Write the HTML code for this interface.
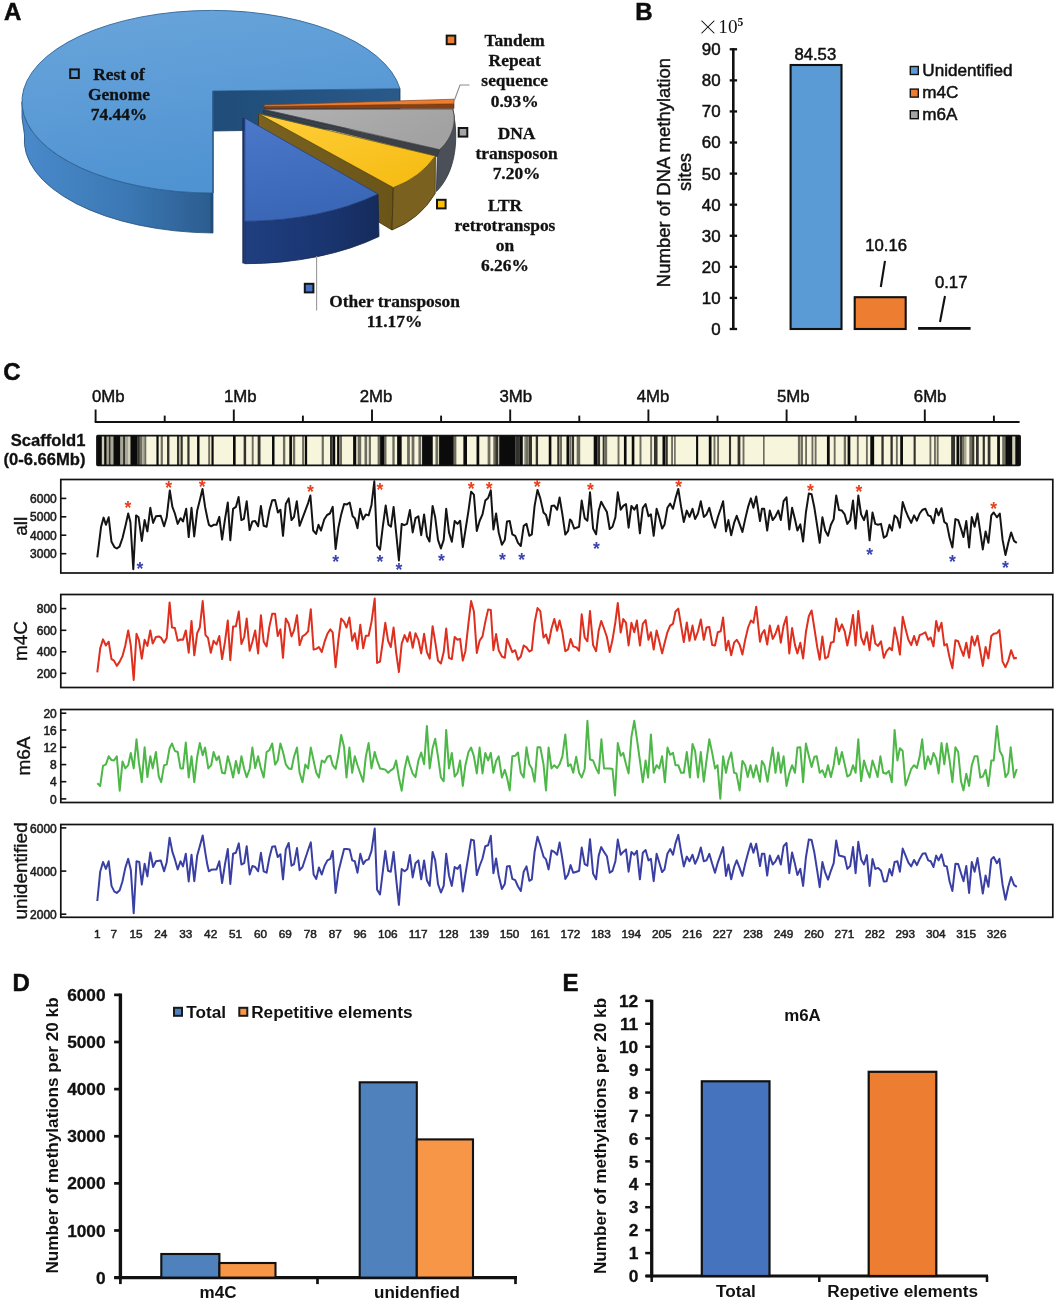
<!DOCTYPE html>
<html lang="en"><head><meta charset="utf-8"><title>Figure</title>
<style>
html,body{margin:0;padding:0;background:#fff;}
body{width:1058px;height:1304px;overflow:hidden;}
svg{display:block;will-change:transform;}
.ss{font-family:"Liberation Sans", sans-serif;}
.sf{font-family:"Liberation Serif", serif;}
</style></head><body>
<svg width="1058" height="1304" viewBox="0 0 1058 1304">
<defs>
<linearGradient id="gMainTop" x1="0" y1="0" x2="0.3" y2="1"><stop offset="0" stop-color="#6aa5db"/><stop offset="1" stop-color="#4f93d2"/></linearGradient>
<linearGradient id="gMainWall" x1="0" y1="0" x2="1" y2="0"><stop offset="0" stop-color="#4a8acb"/><stop offset="0.55" stop-color="#3b78b4"/><stop offset="1" stop-color="#2b5c8e"/></linearGradient>
<linearGradient id="gInner" x1="0" y1="0" x2="1" y2="0"><stop offset="0" stop-color="#1f4c78"/><stop offset="1" stop-color="#2a5a8a"/></linearGradient>
<linearGradient id="gBlueTop" x1="0" y1="0" x2="0.2" y2="1"><stop offset="0" stop-color="#4b78c9"/><stop offset="1" stop-color="#3a66b6"/></linearGradient>
<linearGradient id="gBlueWall" x1="0" y1="0" x2="1" y2="0"><stop offset="0" stop-color="#1f3f80"/><stop offset="0.6" stop-color="#1a3570"/><stop offset="1" stop-color="#152b5c"/></linearGradient>
<linearGradient id="gYelTop" x1="0" y1="0" x2="1" y2="1"><stop offset="0" stop-color="#ffcf3a"/><stop offset="1" stop-color="#f5ba10"/></linearGradient>
<linearGradient id="gYelWall" x1="0" y1="0" x2="1" y2="0"><stop offset="0" stop-color="#7b6220"/><stop offset="1" stop-color="#6a5418"/></linearGradient>
<linearGradient id="gGrayTop" x1="0" y1="0" x2="1" y2="0.4"><stop offset="0" stop-color="#b2b2b2"/><stop offset="1" stop-color="#a2a2a2"/></linearGradient>
</defs>
<g id="panelA">
<path d="M213,91 L400,88.7 L400,128 L213,131 Z" fill="url(#gInner)" stroke="#173a5c" stroke-width="0.8"/>
<path d="M22,101.7 A190,91.3 0 0 0 213,193 L213,233 A192,93 0 0 1 24.5,135 L22,118 Z" fill="url(#gMainWall)" stroke="#234d75" stroke-width="0.8"/>
<path d="M213,91 L400,88.7 A190,91.3 0 1 0 213,193 Z" fill="url(#gMainTop)" stroke="#2f6496" stroke-width="0.9"/>
<path d="M210.5,193 L213,193 L213,233 L210.5,233 Z" fill="#234e79"/>
<path d="M213,91 L213,193" stroke="#2a5a88" stroke-width="1.4"/>
<path d="M264.3,106.5 L454,103.8 L454,108.6 L264.3,108.6 Z" fill="#8a3f10" stroke="#5a2a0a" stroke-width="0.6"/>
<path d="M264.3,105 L454,99.2 L454,103.8 L264.3,106.5 Z" fill="#ed7d31" stroke="#8a4312" stroke-width="0.7"/>
<path d="M452.6,109 C456.5,120 453.5,137 439.6,149.6 L437.4,152 L436.4,191.5 C452,176 458,150 455,123 Z" fill="#4b5058" stroke="#2f3237" stroke-width="0.8"/>
<path d="M263.5,110.4 L439.6,149.6 L437,156.5 L263.5,113 Z" fill="#3c4047" stroke="#2a2c30" stroke-width="0.6"/>
<path d="M263.5,109.3 L452.6,109 C456.5,120 453.5,137 439.6,149.6 Z" fill="url(#gGrayTop)" stroke="#4a4a4a" stroke-width="0.8"/>
<path d="M258.5,113.7 L393.3,187.6 L392,230 L258.5,150 Z" fill="url(#gYelWall)" stroke="#3f3210" stroke-width="0.8"/>
<path d="M435.4,156 Q420,178 393.3,187.6 L392,230 Q420,219 435.2,193.5 Z" fill="#7a611f" stroke="#3f3210" stroke-width="0.8"/>
<path d="M258.5,113.7 L435.4,156 Q420,178 393.3,187.6 Z" fill="url(#gYelTop)" stroke="#6a5310" stroke-width="0.8"/>
<path d="M378,194 A197,103 0 0 1 244.8,221.3 L244.8,263.7 A197,103 0 0 0 379,236.5 Z" fill="url(#gBlueWall)" stroke="#12244d" stroke-width="0.8"/>
<path d="M242.3,118 L244.8,118 L244.8,263.7 L242.3,263.2 Z" fill="#1a3266"/>
<path d="M244.8,118 L378,194 A197,103 0 0 1 244.8,221.3 Z" fill="url(#gBlueTop)" stroke="#24407e" stroke-width="0.8"/>
<path d="M454.3,100.5 L460,85 L469.5,85" fill="none" stroke="#8c8c8c" stroke-width="1.1"/>
<path d="M316.6,256 L316.6,310.5" fill="none" stroke="#9a9a9a" stroke-width="1.1"/>
<rect x="70.2" y="69.4" width="8.6" height="8.6" fill="#5b9bd5" stroke="#141414" stroke-width="2"/>
<rect x="446.7" y="35.6" width="8.6" height="8.6" fill="#ed7d31" stroke="#141414" stroke-width="2"/>
<rect x="458.7" y="128" width="8.6" height="8.6" fill="#a5a5a5" stroke="#141414" stroke-width="2"/>
<rect x="437" y="199.8" width="8.6" height="8.6" fill="#ffc000" stroke="#141414" stroke-width="2"/>
<rect x="304.8" y="283.8" width="8.6" height="8.6" fill="#4472c4" stroke="#141414" stroke-width="2"/>
<text class="sf" x="119" y="79.5" font-size="17.4" text-anchor="middle" font-weight="bold" fill="#111" stroke="#111" stroke-width="0.3">Rest of</text>
<text class="sf" x="119" y="99.7" font-size="17.4" text-anchor="middle" font-weight="bold" fill="#111" stroke="#111" stroke-width="0.3">Genome</text>
<text class="sf" x="119" y="119.9" font-size="17.4" text-anchor="middle" font-weight="bold" fill="#111" stroke="#111" stroke-width="0.3">74.44%</text>
<text class="sf" x="514.7" y="46.0" font-size="17.4" text-anchor="middle" font-weight="bold" fill="#111" stroke="#111" stroke-width="0.3">Tandem</text>
<text class="sf" x="514.7" y="66.2" font-size="17.4" text-anchor="middle" font-weight="bold" fill="#111" stroke="#111" stroke-width="0.3">Repeat</text>
<text class="sf" x="514.7" y="86.4" font-size="17.4" text-anchor="middle" font-weight="bold" fill="#111" stroke="#111" stroke-width="0.3">sequence</text>
<text class="sf" x="514.7" y="106.6" font-size="17.4" text-anchor="middle" font-weight="bold" fill="#111" stroke="#111" stroke-width="0.3">0.93%</text>
<text class="sf" x="516.6" y="139.0" font-size="17.4" text-anchor="middle" font-weight="bold" fill="#111" stroke="#111" stroke-width="0.3">DNA</text>
<text class="sf" x="516.6" y="159.2" font-size="17.4" text-anchor="middle" font-weight="bold" fill="#111" stroke="#111" stroke-width="0.3">transposon</text>
<text class="sf" x="516.6" y="179.4" font-size="17.4" text-anchor="middle" font-weight="bold" fill="#111" stroke="#111" stroke-width="0.3">7.20%</text>
<text class="sf" x="505" y="210.5" font-size="17.4" text-anchor="middle" font-weight="bold" fill="#111" stroke="#111" stroke-width="0.3">LTR</text>
<text class="sf" x="505" y="230.7" font-size="17.4" text-anchor="middle" font-weight="bold" fill="#111" stroke="#111" stroke-width="0.3">retrotranspos</text>
<text class="sf" x="505" y="250.9" font-size="17.4" text-anchor="middle" font-weight="bold" fill="#111" stroke="#111" stroke-width="0.3">on</text>
<text class="sf" x="505" y="271.1" font-size="17.4" text-anchor="middle" font-weight="bold" fill="#111" stroke="#111" stroke-width="0.3">6.26%</text>
<text class="sf" x="394.6" y="307.0" font-size="17.4" text-anchor="middle" font-weight="bold" fill="#111" stroke="#111" stroke-width="0.3">Other transposon</text>
<text class="sf" x="394.6" y="327.2" font-size="17.4" text-anchor="middle" font-weight="bold" fill="#111" stroke="#111" stroke-width="0.3">11.17%</text>
<text class="ss" x="4.1" y="20.3" font-size="24" text-anchor="start" font-weight="bold" fill="#0c0c0c" stroke="#0c0c0c" stroke-width="0.5">A</text>
</g>
<g id="panelB">
<text class="ss" x="635.3" y="20.2" font-size="24" text-anchor="start" font-weight="bold" fill="#0c0c0c" stroke="#0c0c0c" stroke-width="0.5">B</text>
<text class="sf" x="697.7" y="39.3" font-size="36" text-anchor="start" font-weight="normal" fill="#111" stroke="#fff" stroke-width="0.7">×</text>
<text class="sf" x="718.3" y="33" font-size="19.2" text-anchor="start" font-weight="normal" fill="#111" >10<tspan dy="-7.2" font-size="11.5" font-weight="bold">5</tspan></text>
<path d="M733.3,48.18000000000003 L733.3,330.1" stroke="#111" stroke-width="2.6"/>
<path d="M729.6999999999999,329.00 L737.0999999999999,329.00" stroke="#111" stroke-width="2.3"/>
<text class="ss" x="720.6" y="334.9" font-size="16.9" text-anchor="end" font-weight="normal" fill="#111" stroke="#111" stroke-width="0.5">0</text>
<path d="M729.6999999999999,297.92 L737.0999999999999,297.92" stroke="#111" stroke-width="2.3"/>
<text class="ss" x="720.6" y="303.82" font-size="16.9" text-anchor="end" font-weight="normal" fill="#111" stroke="#111" stroke-width="0.5">10</text>
<path d="M729.6999999999999,266.84 L737.0999999999999,266.84" stroke="#111" stroke-width="2.3"/>
<text class="ss" x="720.6" y="272.74" font-size="16.9" text-anchor="end" font-weight="normal" fill="#111" stroke="#111" stroke-width="0.5">20</text>
<path d="M729.6999999999999,235.76 L737.0999999999999,235.76" stroke="#111" stroke-width="2.3"/>
<text class="ss" x="720.6" y="241.66" font-size="16.9" text-anchor="end" font-weight="normal" fill="#111" stroke="#111" stroke-width="0.5">30</text>
<path d="M729.6999999999999,204.68 L737.0999999999999,204.68" stroke="#111" stroke-width="2.3"/>
<text class="ss" x="720.6" y="210.58" font-size="16.9" text-anchor="end" font-weight="normal" fill="#111" stroke="#111" stroke-width="0.5">40</text>
<path d="M729.6999999999999,173.60 L737.0999999999999,173.60" stroke="#111" stroke-width="2.3"/>
<text class="ss" x="720.6" y="179.5" font-size="16.9" text-anchor="end" font-weight="normal" fill="#111" stroke="#111" stroke-width="0.5">50</text>
<path d="M729.6999999999999,142.52 L737.0999999999999,142.52" stroke="#111" stroke-width="2.3"/>
<text class="ss" x="720.6" y="148.42" font-size="16.9" text-anchor="end" font-weight="normal" fill="#111" stroke="#111" stroke-width="0.5">60</text>
<path d="M729.6999999999999,111.44 L737.0999999999999,111.44" stroke="#111" stroke-width="2.3"/>
<text class="ss" x="720.6" y="117.34" font-size="16.9" text-anchor="end" font-weight="normal" fill="#111" stroke="#111" stroke-width="0.5">70</text>
<path d="M729.6999999999999,80.36 L737.0999999999999,80.36" stroke="#111" stroke-width="2.3"/>
<text class="ss" x="720.6" y="86.26" font-size="16.9" text-anchor="end" font-weight="normal" fill="#111" stroke="#111" stroke-width="0.5">80</text>
<path d="M729.6999999999999,49.28 L737.0999999999999,49.28" stroke="#111" stroke-width="2.3"/>
<text class="ss" x="720.6" y="55.18" font-size="16.9" text-anchor="end" font-weight="normal" fill="#111" stroke="#111" stroke-width="0.5">90</text>
<rect x="790.6" y="65" width="50.9" height="264" fill="#5b9bd5" stroke="#111" stroke-width="2.1"/>
<rect x="854.7" y="297.2" width="51.0" height="31.8" fill="#ed7d31" stroke="#111" stroke-width="2.1"/>
<rect x="918.9" y="327.8" width="50.9" height="1.2" fill="#a5a5a5" stroke="#111" stroke-width="1.6"/>
<text class="ss" x="815.3" y="59.8" font-size="16.7" text-anchor="middle" font-weight="normal" fill="#111" stroke="#111" stroke-width="0.5">84.53</text>
<text class="ss" x="886.2" y="250.8" font-size="16.7" text-anchor="middle" font-weight="normal" fill="#111" stroke="#111" stroke-width="0.5">10.16</text>
<text class="ss" x="951.2" y="288" font-size="16.7" text-anchor="middle" font-weight="normal" fill="#111" stroke="#111" stroke-width="0.5">0.17</text>
<path d="M885,260.8 L880.8,287" stroke="#111" stroke-width="2.1"/>
<path d="M945,296 L940,322" stroke="#111" stroke-width="2.1"/>
<rect x="910.3" y="66.5" width="8" height="8" fill="#5b9bd5" stroke="#111" stroke-width="1.4"/>
<text class="ss" x="922.3" y="75.8" font-size="17.1" text-anchor="start" font-weight="normal" fill="#111" stroke="#111" stroke-width="0.5">Unidentified</text>
<rect x="910.3" y="89.10000000000001" width="8" height="8" fill="#ed7d31" stroke="#111" stroke-width="1.4"/>
<text class="ss" x="922.3" y="98.4" font-size="17.1" text-anchor="start" font-weight="normal" fill="#111" stroke="#111" stroke-width="0.5">m4C</text>
<rect x="910.3" y="110.7" width="8" height="8" fill="#a5a5a5" stroke="#111" stroke-width="1.4"/>
<text class="ss" x="922.3" y="120" font-size="17.1" text-anchor="start" font-weight="normal" fill="#111" stroke="#111" stroke-width="0.5">m6A</text>
<text class="ss" transform="translate(669.8,172.5) rotate(-90)" font-size="18.5" text-anchor="middle" font-weight="normal" fill="#111" stroke="#111" stroke-width="0.4">Number of DNA methylation</text>
<text class="ss" transform="translate(690.5,172) rotate(-90)" font-size="18.5" text-anchor="middle" font-weight="normal" fill="#111" stroke="#111" stroke-width="0.4">sites</text>
</g>
<g id="panelC">
<text class="ss" x="3.2" y="380.4" font-size="24" text-anchor="start" font-weight="bold" fill="#0c0c0c" stroke="#0c0c0c" stroke-width="0.5">C</text>
<path d="M94.69999999999999,422.0 L1019.6,422.0" stroke="#111" stroke-width="2"/>
<path d="M95.60,409.5 L95.60,422.0" stroke="#111" stroke-width="1.9"/>
<text class="ss" x="92" y="401.8" font-size="16.8" text-anchor="start" font-weight="normal" fill="#111" stroke="#111" stroke-width="0.45">0Mb</text>
<path d="M164.70,415.6 L164.70,422.0" stroke="#111" stroke-width="1.9"/>
<path d="M233.80,409.5 L233.80,422.0" stroke="#111" stroke-width="1.9"/>
<text class="ss" x="224" y="401.8" font-size="16.8" text-anchor="start" font-weight="normal" fill="#111" stroke="#111" stroke-width="0.45">1Mb</text>
<path d="M302.90,415.6 L302.90,422.0" stroke="#111" stroke-width="1.9"/>
<path d="M372.00,409.5 L372.00,422.0" stroke="#111" stroke-width="1.9"/>
<text class="ss" x="359.7" y="401.8" font-size="16.8" text-anchor="start" font-weight="normal" fill="#111" stroke="#111" stroke-width="0.45">2Mb</text>
<path d="M441.10,415.6 L441.10,422.0" stroke="#111" stroke-width="1.9"/>
<path d="M510.20,409.5 L510.20,422.0" stroke="#111" stroke-width="1.9"/>
<text class="ss" x="499.5" y="401.8" font-size="16.8" text-anchor="start" font-weight="normal" fill="#111" stroke="#111" stroke-width="0.45">3Mb</text>
<path d="M579.30,415.6 L579.30,422.0" stroke="#111" stroke-width="1.9"/>
<path d="M648.40,409.5 L648.40,422.0" stroke="#111" stroke-width="1.9"/>
<text class="ss" x="636.7" y="401.8" font-size="16.8" text-anchor="start" font-weight="normal" fill="#111" stroke="#111" stroke-width="0.45">4Mb</text>
<path d="M717.50,415.6 L717.50,422.0" stroke="#111" stroke-width="1.9"/>
<path d="M786.60,409.5 L786.60,422.0" stroke="#111" stroke-width="1.9"/>
<text class="ss" x="777" y="401.8" font-size="16.8" text-anchor="start" font-weight="normal" fill="#111" stroke="#111" stroke-width="0.45">5Mb</text>
<path d="M855.70,415.6 L855.70,422.0" stroke="#111" stroke-width="1.9"/>
<path d="M924.80,409.5 L924.80,422.0" stroke="#111" stroke-width="1.9"/>
<text class="ss" x="913.8" y="401.8" font-size="16.8" text-anchor="start" font-weight="normal" fill="#111" stroke="#111" stroke-width="0.45">6Mb</text>
<path d="M993.90,415.6 L993.90,422.0" stroke="#111" stroke-width="1.9"/>
<text class="ss" x="85.5" y="445.5" font-size="16.6" text-anchor="end" font-weight="bold" fill="#111" stroke="#111" stroke-width="0.3">Scaffold1</text>
<text class="ss" x="85.5" y="464.8" font-size="16.6" text-anchor="end" font-weight="bold" fill="#111" stroke="#111" stroke-width="0.3">(0-6.66Mb)</text>
<rect x="97" y="435.6" width="923" height="29.8" fill="#f7f5dc"/>
<rect x="97.09" y="435.6" width="4.97" height="29.8" fill="#0b0b0b"/>
<rect x="101.81" y="435.6" width="2.62" height="29.8" fill="#cfcdb8"/>
<rect x="104.18" y="435.6" width="2.56" height="29.8" fill="#0b0b0b"/>
<rect x="106.74" y="435.6" width="2.41" height="29.8" fill="#a9a797"/>
<rect x="108.9" y="435.6" width="1.92" height="29.8" fill="#33322c"/>
<rect x="110.57" y="435.6" width="2.83" height="29.8" fill="#a9a797"/>
<rect x="113.4" y="435.6" width="7.1" height="29.8" fill="#0b0b0b"/>
<rect x="120.5" y="435.6" width="2.83" height="29.8" fill="#a9a797"/>
<rect x="123.08" y="435.6" width="2.35" height="29.8" fill="#33322c"/>
<rect x="125.18" y="435.6" width="2.83" height="29.8" fill="#a9a797"/>
<rect x="128.01" y="435.6" width="2.42" height="29.8" fill="#cfcdb8"/>
<rect x="130.43" y="435.6" width="7.09" height="29.8" fill="#0b0b0b"/>
<rect x="137.27" y="435.6" width="2.63" height="29.8" fill="#33322c"/>
<rect x="139.65" y="435.6" width="2.55" height="29.8" fill="#6f6d60"/>
<rect x="142.2" y="435.6" width="2.41" height="29.8" fill="#a9a797"/>
<rect x="144.36" y="435.6" width="1.92" height="29.8" fill="#6f6d60"/>
<rect x="156.42" y="435.6" width="2.2" height="29.8" fill="#0b0b0b"/>
<rect x="160.67" y="435.6" width="2.2" height="29.8" fill="#6f6d60"/>
<rect x="167.05" y="435.6" width="2.35" height="29.8" fill="#33322c"/>
<rect x="176.98" y="435.6" width="2.35" height="29.8" fill="#33322c"/>
<rect x="180.53" y="435.6" width="2.2" height="29.8" fill="#33322c"/>
<rect x="187.34" y="435.6" width="2.2" height="29.8" fill="#33322c"/>
<rect x="197.09" y="435.6" width="2.41" height="29.8" fill="#0b0b0b"/>
<rect x="208.19" y="435.6" width="1.92" height="29.8" fill="#6f6d60"/>
<rect x="211.45" y="435.6" width="2.2" height="29.8" fill="#0b0b0b"/>
<rect x="233.01" y="435.6" width="2.63" height="29.8" fill="#0b0b0b"/>
<rect x="243.65" y="435.6" width="2.49" height="29.8" fill="#33322c"/>
<rect x="251.74" y="435.6" width="1.91" height="29.8" fill="#6f6d60"/>
<rect x="257.66" y="435.6" width="2.84" height="29.8" fill="#33322c"/>
<rect x="272.02" y="435.6" width="2.49" height="29.8" fill="#0b0b0b"/>
<rect x="282.94" y="435.6" width="2.35" height="29.8" fill="#6f6d60"/>
<rect x="289.32" y="435.6" width="2.63" height="29.8" fill="#0b0b0b"/>
<rect x="292.87" y="435.6" width="2.34" height="29.8" fill="#6f6d60"/>
<rect x="302.09" y="435.6" width="2.2" height="29.8" fill="#6f6d60"/>
<rect x="304.93" y="435.6" width="2.2" height="29.8" fill="#0b0b0b"/>
<rect x="321.66" y="435.6" width="2.21" height="29.8" fill="#6f6d60"/>
<rect x="330.0" y="435.6" width="2.84" height="29.8" fill="#33322c"/>
<rect x="333.01" y="435.6" width="2.2" height="29.8" fill="#0b0b0b"/>
<rect x="337.13" y="435.6" width="2.34" height="29.8" fill="#0b0b0b"/>
<rect x="339.68" y="435.6" width="2.34" height="29.8" fill="#6f6d60"/>
<rect x="353.12" y="435.6" width="3.12" height="29.8" fill="#0b0b0b"/>
<rect x="357.66" y="435.6" width="3.55" height="29.8" fill="#6f6d60"/>
<rect x="364.5" y="435.6" width="2.63" height="29.8" fill="#6f6d60"/>
<rect x="368.76" y="435.6" width="2.2" height="29.8" fill="#6f6d60"/>
<rect x="377.6" y="435.6" width="2.77" height="29.8" fill="#6f6d60"/>
<rect x="380.12" y="435.6" width="4.54" height="29.8" fill="#0b0b0b"/>
<rect x="384.41" y="435.6" width="2.08" height="29.8" fill="#6f6d60"/>
<rect x="392.35" y="435.6" width="2.31" height="29.8" fill="#6f6d60"/>
<rect x="397.13" y="435.6" width="4.54" height="29.8" fill="#0b0b0b"/>
<rect x="407.09" y="435.6" width="2.77" height="29.8" fill="#6f6d60"/>
<rect x="411.63" y="435.6" width="2.77" height="29.8" fill="#6f6d60"/>
<rect x="418.43" y="435.6" width="2.77" height="29.8" fill="#6f6d60"/>
<rect x="422.09" y="435.6" width="10.66" height="29.8" fill="#0b0b0b"/>
<rect x="435.45" y="435.6" width="2.77" height="29.8" fill="#6f6d60"/>
<rect x="439.1" y="435.6" width="14.75" height="29.8" fill="#0b0b0b"/>
<rect x="453.6" y="435.6" width="2.77" height="29.8" fill="#6f6d60"/>
<rect x="463.38" y="435.6" width="3.63" height="29.8" fill="#0b0b0b"/>
<rect x="476.53" y="435.6" width="2.73" height="29.8" fill="#0b0b0b"/>
<rect x="487.63" y="435.6" width="2.77" height="29.8" fill="#6f6d60"/>
<rect x="493.3" y="435.6" width="2.77" height="29.8" fill="#6f6d60"/>
<rect x="495.57" y="435.6" width="2.77" height="29.8" fill="#33322c"/>
<rect x="499.22" y="435.6" width="10.89" height="29.8" fill="#0b0b0b"/>
<rect x="510.0" y="435.6" width="5.67" height="29.8" fill="#0b0b0b"/>
<rect x="515.67" y="435.6" width="4.26" height="29.8" fill="#33322c"/>
<rect x="519.93" y="435.6" width="2.84" height="29.8" fill="#0b0b0b"/>
<rect x="523.93" y="435.6" width="1.92" height="29.8" fill="#a9a797"/>
<rect x="525.35" y="435.6" width="2.63" height="29.8" fill="#6f6d60"/>
<rect x="528.44" y="435.6" width="3.55" height="29.8" fill="#33322c"/>
<rect x="535.71" y="435.6" width="2.34" height="29.8" fill="#33322c"/>
<rect x="548.76" y="435.6" width="2.62" height="29.8" fill="#0b0b0b"/>
<rect x="557.27" y="435.6" width="1.92" height="29.8" fill="#33322c"/>
<rect x="559.4" y="435.6" width="2.62" height="29.8" fill="#6f6d60"/>
<rect x="566.49" y="435.6" width="2.63" height="29.8" fill="#0b0b0b"/>
<rect x="569.32" y="435.6" width="1.92" height="29.8" fill="#6f6d60"/>
<rect x="571.74" y="435.6" width="2.34" height="29.8" fill="#33322c"/>
<rect x="576.67" y="435.6" width="3.54" height="29.8" fill="#6f6d60"/>
<rect x="593.69" y="435.6" width="3.54" height="29.8" fill="#0b0b0b"/>
<rect x="597.23" y="435.6" width="2.84" height="29.8" fill="#33322c"/>
<rect x="602.66" y="435.6" width="1.92" height="29.8" fill="#33322c"/>
<rect x="604.33" y="435.6" width="2.83" height="29.8" fill="#6f6d60"/>
<rect x="617.55" y="435.6" width="1.92" height="29.8" fill="#6f6d60"/>
<rect x="623.93" y="435.6" width="2.63" height="29.8" fill="#0b0b0b"/>
<rect x="631.74" y="435.6" width="2.62" height="29.8" fill="#0b0b0b"/>
<rect x="639.54" y="435.6" width="1.92" height="29.8" fill="#6f6d60"/>
<rect x="650.18" y="435.6" width="1.91" height="29.8" fill="#6f6d60"/>
<rect x="653.97" y="435.6" width="3.55" height="29.8" fill="#33322c"/>
<rect x="662.5" y="435.6" width="2.77" height="29.8" fill="#0b0b0b"/>
<rect x="665.45" y="435.6" width="2.31" height="29.8" fill="#33322c"/>
<rect x="671.12" y="435.6" width="1.86" height="29.8" fill="#6f6d60"/>
<rect x="674.07" y="435.6" width="1.63" height="29.8" fill="#6f6d60"/>
<rect x="696.07" y="435.6" width="2.09" height="29.8" fill="#0b0b0b"/>
<rect x="708.8" y="435.6" width="2.72" height="29.8" fill="#0b0b0b"/>
<rect x="713.54" y="435.6" width="1.86" height="29.8" fill="#6f6d60"/>
<rect x="717.17" y="435.6" width="1.86" height="29.8" fill="#6f6d60"/>
<rect x="728.97" y="435.6" width="2.09" height="29.8" fill="#33322c"/>
<rect x="737.59" y="435.6" width="2.77" height="29.8" fill="#33322c"/>
<rect x="742.58" y="435.6" width="1.86" height="29.8" fill="#6f6d60"/>
<rect x="763.0" y="435.6" width="1.63" height="29.8" fill="#6f6d60"/>
<rect x="797.9" y="435.6" width="2.31" height="29.8" fill="#6f6d60"/>
<rect x="800.62" y="435.6" width="2.32" height="29.8" fill="#6f6d60"/>
<rect x="805.16" y="435.6" width="1.86" height="29.8" fill="#6f6d60"/>
<rect x="811.51" y="435.6" width="1.86" height="29.8" fill="#6f6d60"/>
<rect x="814.69" y="435.6" width="1.86" height="29.8" fill="#6f6d60"/>
<rect x="826.94" y="435.6" width="2.77" height="29.8" fill="#0b0b0b"/>
<rect x="833.74" y="435.6" width="1.86" height="29.8" fill="#6f6d60"/>
<rect x="843.72" y="435.6" width="2.32" height="29.8" fill="#6f6d60"/>
<rect x="847.6" y="435.6" width="2.73" height="29.8" fill="#0b0b0b"/>
<rect x="856.88" y="435.6" width="1.86" height="29.8" fill="#6f6d60"/>
<rect x="865.96" y="435.6" width="1.86" height="29.8" fill="#6f6d60"/>
<rect x="870.29" y="435.6" width="3.86" height="29.8" fill="#0b0b0b"/>
<rect x="881.38" y="435.6" width="2.32" height="29.8" fill="#33322c"/>
<rect x="890.46" y="435.6" width="2.31" height="29.8" fill="#33322c"/>
<rect x="895.9" y="435.6" width="1.86" height="29.8" fill="#6f6d60"/>
<rect x="900.24" y="435.6" width="2.72" height="29.8" fill="#0b0b0b"/>
<rect x="913.6" y="435.6" width="2.09" height="29.8" fill="#33322c"/>
<rect x="929.48" y="435.6" width="1.86" height="29.8" fill="#6f6d60"/>
<rect x="934.01" y="435.6" width="1.87" height="29.8" fill="#6f6d60"/>
<rect x="936.74" y="435.6" width="1.86" height="29.8" fill="#6f6d60"/>
<rect x="951.15" y="435.6" width="3.91" height="29.8" fill="#33322c"/>
<rect x="956.48" y="435.6" width="2.73" height="29.8" fill="#0b0b0b"/>
<rect x="959.83" y="435.6" width="2.17" height="29.8" fill="#33322c"/>
<rect x="962.06" y="435.6" width="2.5" height="29.8" fill="#6f6d60"/>
<rect x="964.06" y="435.6" width="2.4" height="29.8" fill="#a9a797"/>
<rect x="969.31" y="435.6" width="2.73" height="29.8" fill="#6f6d60"/>
<rect x="972.09" y="435.6" width="2.18" height="29.8" fill="#33322c"/>
<rect x="976.0" y="435.6" width="2.73" height="29.8" fill="#33322c"/>
<rect x="982.69" y="435.6" width="2.17" height="29.8" fill="#33322c"/>
<rect x="987.71" y="435.6" width="2.73" height="29.8" fill="#33322c"/>
<rect x="997.19" y="435.6" width="2.73" height="29.8" fill="#0b0b0b"/>
<rect x="1002.21" y="435.6" width="2.73" height="29.8" fill="#6f6d60"/>
<rect x="1005.25" y="435.6" width="7.25" height="29.8" fill="#0b0b0b"/>
<rect x="1012.5" y="435.6" width="2.78" height="29.8" fill="#cfcdb8"/>
<rect x="1015.28" y="435.6" width="5.02" height="29.8" fill="#0b0b0b"/>
<rect x="97" y="435.6" width="923" height="29.8" rx="0.8" fill="none" stroke="#111" stroke-width="1.8"/>
<rect x="60.8" y="479.5" width="992.0" height="93.5" fill="#fff" stroke="#111" stroke-width="1.7"/>
<path d="M60.8,498.4 L66.3,498.4" stroke="#111" stroke-width="1.6"/>
<text class="ss" x="56.8" y="503.0" font-size="12" text-anchor="end" font-weight="normal" fill="#1c1c1c" stroke="#1c1c1c" stroke-width="0.55">6000</text>
<path d="M60.8,516.8 L66.3,516.8" stroke="#111" stroke-width="1.6"/>
<text class="ss" x="56.8" y="521.4" font-size="12" text-anchor="end" font-weight="normal" fill="#1c1c1c" stroke="#1c1c1c" stroke-width="0.55">5000</text>
<path d="M60.8,535.2 L66.3,535.2" stroke="#111" stroke-width="1.6"/>
<text class="ss" x="56.8" y="539.8" font-size="12" text-anchor="end" font-weight="normal" fill="#1c1c1c" stroke="#1c1c1c" stroke-width="0.55">4000</text>
<path d="M60.8,553.7 L66.3,553.7" stroke="#111" stroke-width="1.6"/>
<text class="ss" x="56.8" y="558.3" font-size="12" text-anchor="end" font-weight="normal" fill="#1c1c1c" stroke="#1c1c1c" stroke-width="0.55">3000</text>
<text class="ss" transform="translate(26.5,526.25) rotate(-90)" font-size="19" text-anchor="middle" font-weight="normal" fill="#111" stroke="#111" stroke-width="0.35">all</text>
<path d="M97.3,557.3 L101.1,526.7 L103.6,517.6 L105.9,524.8 L108.7,517.3 L111.5,541.8 L114.4,547.1 L116.8,548.5 L119.5,546.6 L122.5,538.0 L125.7,524.8 L128.2,513.5 L130.4,522.0 L133.3,569.2 L136.1,515.4 L138.6,517.3 L141.8,540.9 L144.6,520.1 L147.4,531.4 L150.3,507.8 L153.1,522.9 L155.9,516.3 L160.7,515.8 L164.1,526.3 L166.7,517.3 L169.8,490.4 L172.4,506.9 L174.9,513.5 L177.7,523.9 L180.5,518.2 L183.0,521.4 L186.2,508.8 L188.7,537.1 L191.5,507.8 L194.2,536.5 L197.2,510.6 L199.8,500.2 L202.5,488.9 L205.1,506.9 L207.4,518.2 L208.9,524.8 L211.2,526.3 L213.6,524.8 L216.5,524.8 L219.3,516.9 L222.1,539.6 L225.0,519.1 L227.8,502.5 L230.3,540.3 L233.1,508.8 L235.9,506.9 L238.6,497.0 L241.4,520.1 L243.9,518.8 L246.7,501.2 L249.6,530.1 L252.4,521.4 L255.2,521.0 L258.1,526.3 L260.9,505.9 L263.7,525.8 L266.6,526.7 L269.4,510.6 L272.2,500.2 L275.1,499.9 L277.9,512.5 L280.4,509.7 L283.0,535.8 L285.8,504.0 L288.7,498.4 L291.5,520.1 L294.0,516.9 L296.8,501.2 L299.6,525.8 L302.5,518.2 L305.3,510.6 L308.1,503.1 L310.4,495.5 L313.2,530.5 L316.1,533.9 L318.5,524.8 L321.0,530.5 L324.2,519.5 L327.1,515.0 L329.9,513.5 L332.7,506.9 L335.6,549.0 L338.4,527.7 L341.2,514.4 L344.1,504.0 L346.9,504.4 L349.7,502.5 L352.6,516.3 L354.8,518.2 L357.5,528.2 L360.1,508.8 L363.0,519.5 L365.8,514.4 L368.6,515.4 L371.5,505.0 L374.3,481.3 L377.1,545.6 L380.0,549.8 L382.8,526.7 L385.7,505.5 L388.5,524.8 L391.0,526.7 L393.6,506.9 L396.1,532.4 L398.9,560.4 L401.7,523.9 L404.2,525.2 L407.0,523.9 L409.9,510.1 L412.7,532.4 L415.5,518.2 L418.4,516.3 L421.2,535.2 L424.1,514.4 L426.9,536.2 L429.5,541.5 L432.6,505.9 L435.2,517.3 L438.0,539.9 L440.9,548.5 L443.7,539.9 L446.2,508.8 L449.0,532.4 L451.8,541.8 L454.7,521.0 L457.5,523.9 L460.1,520.7 L462.8,547.1 L465.4,530.5 L468.5,510.6 L471.1,491.7 L473.9,494.6 L476.8,530.9 L479.6,521.0 L482.5,514.4 L485.3,500.6 L488.1,498.0 L490.8,490.4 L493.4,529.5 L496.1,513.5 L498.7,532.4 L501.9,544.7 L504.8,539.9 L507.0,521.4 L509.7,521.0 L512.3,534.3 L515.2,535.8 L518.0,542.8 L520.8,546.0 L523.7,525.8 L526.5,523.9 L529.3,535.8 L531.8,534.3 L534.6,505.9 L537.5,489.9 L540.3,498.4 L543.5,512.5 L546.0,515.0 L548.6,525.2 L551.5,505.9 L554.3,505.5 L557.1,509.7 L559.6,497.4 L562.4,514.4 L565.3,534.6 L568.1,530.9 L570.0,519.5 L571.5,521.0 L574.2,528.6 L579.1,526.7 L581.7,500.6 L584.7,518.2 L587.4,520.7 L590.0,492.3 L593.1,528.6 L596.1,534.3 L598.7,510.6 L601.2,501.8 L604.0,506.9 L606.9,512.0 L609.7,529.0 L612.5,526.7 L615.4,517.3 L617.8,492.3 L620.7,509.7 L623.3,505.9 L626.0,504.0 L628.6,527.7 L631.4,505.9 L634.3,509.7 L636.9,505.0 L639.9,533.3 L642.8,507.8 L645.6,504.0 L648.5,516.3 L650.9,514.4 L653.7,535.8 L656.6,508.8 L659.2,517.3 L662.1,528.6 L664.5,524.8 L667.4,507.8 L670.2,503.6 L673.0,508.8 L675.5,498.4 L678.3,488.9 L681.1,506.9 L683.8,522.0 L686.8,510.6 L689.5,516.9 L692.5,508.8 L695.1,519.1 L698.0,513.5 L700.8,501.2 L703.8,516.9 L706.5,514.4 L709.3,507.8 L712.2,519.5 L715.0,527.7 L717.8,517.3 L720.7,508.8 L723.1,501.2 L726.0,531.4 L728.4,520.1 L731.2,535.2 L734.1,522.9 L736.7,515.8 L739.6,523.9 L742.4,532.0 L745.2,519.1 L748.1,506.9 L750.9,498.4 L753.4,507.8 L756.2,496.5 L760.0,521.0 L761.9,508.8 L764.2,508.8 L767.2,530.5 L769.8,510.6 L772.7,520.1 L775.5,516.3 L778.3,510.6 L780.8,520.1 L783.6,501.2 L786.5,497.4 L789.3,529.5 L792.1,507.8 L795.0,519.5 L797.4,530.5 L800.3,524.4 L803.1,541.5 L805.9,512.5 L808.8,493.6 L811.6,494.2 L814.4,507.8 L817.3,526.7 L819.7,542.8 L822.4,517.3 L825.2,530.5 L828.0,535.8 L830.9,524.8 L833.7,519.1 L836.2,495.5 L839.0,510.1 L841.9,510.6 L844.7,514.4 L847.3,523.9 L850.2,520.1 L853.0,500.6 L855.6,528.6 L858.3,495.5 L861.1,514.4 L864.0,520.1 L866.8,510.6 L869.6,540.3 L872.5,512.5 L875.3,523.9 L878.1,524.8 L881.0,523.9 L883.8,537.7 L886.6,535.8 L889.5,524.8 L892.0,530.5 L894.6,515.4 L897.4,518.2 L899.9,527.7 L902.7,502.1 L905.6,510.6 L908.4,517.3 L911.2,522.9 L914.1,515.4 L916.9,520.7 L919.7,513.5 L922.6,509.7 L925.4,508.8 L928.2,515.4 L930.7,516.3 L933.5,523.3 L936.2,508.8 L938.6,515.4 L941.5,508.2 L944.3,522.0 L946.8,523.9 L949.6,537.7 L952.4,547.5 L955.4,519.1 L958.2,520.1 L961.0,528.6 L963.5,537.1 L966.3,521.0 L969.1,547.5 L971.8,516.9 L974.6,526.7 L977.5,513.5 L980.3,532.4 L982.8,549.4 L985.6,531.4 L988.4,542.8 L991.3,515.4 L993.7,512.5 L996.9,517.3 L999.8,513.5 L1002.6,539.9 L1005.5,555.1 L1008.3,542.8 L1011.1,532.4 L1014.0,540.9 L1016.8,542.8" fill="none" stroke="#141414" stroke-width="2" stroke-linejoin="round"/>
<rect x="60.8" y="594.5" width="992.0" height="93.0" fill="#fff" stroke="#111" stroke-width="1.7"/>
<path d="M60.8,608.6 L66.3,608.6" stroke="#111" stroke-width="1.6"/>
<text class="ss" x="56.8" y="613.2" font-size="12" text-anchor="end" font-weight="normal" fill="#1c1c1c" stroke="#1c1c1c" stroke-width="0.55">800</text>
<path d="M60.8,630.3 L66.3,630.3" stroke="#111" stroke-width="1.6"/>
<text class="ss" x="56.8" y="634.9" font-size="12" text-anchor="end" font-weight="normal" fill="#1c1c1c" stroke="#1c1c1c" stroke-width="0.55">600</text>
<path d="M60.8,651.8 L66.3,651.8" stroke="#111" stroke-width="1.6"/>
<text class="ss" x="56.8" y="656.4" font-size="12" text-anchor="end" font-weight="normal" fill="#1c1c1c" stroke="#1c1c1c" stroke-width="0.55">400</text>
<path d="M60.8,673.3 L66.3,673.3" stroke="#111" stroke-width="1.6"/>
<text class="ss" x="56.8" y="677.9" font-size="12" text-anchor="end" font-weight="normal" fill="#1c1c1c" stroke="#1c1c1c" stroke-width="0.55">200</text>
<text class="ss" transform="translate(26.5,641.0) rotate(-90)" font-size="19" text-anchor="middle" font-weight="normal" fill="#111" stroke="#111" stroke-width="0.35">m4C</text>
<path d="M97.3,672.3 L100.2,648.3 L103.0,639.4 L105.9,645.5 L108.7,641.7 L111.5,659.1 L114.0,660.6 L116.8,665.9 L119.7,661.6 L122.5,655.9 L125.3,645.5 L128.2,630.4 L130.8,645.5 L133.7,679.9 L136.5,633.8 L138.9,639.8 L141.8,658.7 L144.6,639.8 L147.4,645.9 L150.3,630.4 L152.7,643.6 L155.9,637.0 L158.8,636.4 L161.2,637.9 L164.1,642.7 L166.7,637.9 L169.6,602.4 L172.0,627.5 L174.9,628.1 L177.7,640.8 L180.5,639.4 L183.0,639.8 L185.8,630.4 L188.7,652.7 L191.5,620.9 L194.3,655.3 L197.2,633.2 L199.8,627.5 L202.7,601.1 L205.5,635.1 L208.0,637.9 L210.8,652.7 L213.6,640.8 L216.5,644.5 L219.3,636.0 L222.1,659.1 L225.0,641.7 L227.8,620.5 L230.3,660.2 L233.1,626.6 L235.9,626.2 L238.8,611.5 L241.4,644.0 L244.2,637.0 L246.7,618.6 L249.7,650.8 L252.4,641.7 L255.2,630.4 L258.1,653.4 L260.9,615.2 L263.7,641.7 L266.6,646.4 L269.4,626.6 L272.2,613.7 L275.1,613.7 L277.7,636.0 L280.4,629.4 L283.0,657.8 L285.8,618.6 L288.7,623.8 L291.5,636.4 L294.0,630.4 L297.0,615.2 L299.6,645.1 L302.5,636.4 L305.3,634.5 L308.1,631.3 L310.8,609.2 L313.6,649.6 L316.3,648.9 L318.9,647.0 L321.8,652.1 L324.6,641.7 L327.4,633.8 L330.3,629.4 L332.7,632.3 L335.6,667.2 L338.4,639.8 L341.2,618.6 L344.1,621.9 L346.5,627.5 L349.4,617.5 L352.2,640.8 L354.8,633.2 L357.5,648.9 L360.3,624.7 L363.2,648.3 L365.8,635.7 L368.6,635.7 L371.5,621.9 L374.7,598.6 L377.1,662.9 L380.0,661.6 L382.8,641.7 L385.3,622.8 L388.1,640.8 L390.8,647.0 L393.6,627.5 L396.1,652.1 L398.9,672.0 L401.7,643.6 L404.6,635.1 L407.4,641.7 L409.9,632.3 L412.7,647.8 L415.5,633.2 L418.4,639.8 L421.2,653.4 L424.1,633.8 L426.9,652.1 L429.7,658.7 L432.6,626.2 L435.2,641.7 L438.0,660.6 L440.9,663.5 L443.7,652.1 L446.2,628.5 L449.0,657.8 L451.8,659.1 L454.7,637.0 L457.5,639.8 L460.1,638.9 L462.8,660.6 L465.4,651.2 L468.5,622.8 L471.1,601.1 L473.9,611.5 L476.8,653.0 L479.6,640.8 L482.5,636.4 L485.3,621.9 L488.1,609.6 L490.8,610.0 L493.4,650.2 L496.1,634.1 L498.7,650.2 L501.9,656.5 L504.8,657.8 L507.0,638.9 L509.7,645.5 L512.3,652.1 L515.2,650.2 L518.0,659.7 L520.8,656.5 L523.7,645.5 L526.5,647.4 L529.3,651.5 L531.8,650.2 L534.6,622.8 L537.5,608.1 L540.3,611.1 L543.5,637.5 L546.0,634.5 L548.6,643.6 L551.5,628.5 L554.3,619.0 L557.1,630.8 L559.6,620.5 L562.4,632.3 L565.3,651.2 L568.1,649.3 L570.6,638.9 L573.2,646.4 L576.6,647.4 L579.1,650.8 L581.7,614.3 L584.7,637.5 L587.4,641.3 L590.0,611.1 L593.1,645.1 L596.1,651.2 L598.7,630.4 L601.2,620.9 L604.0,628.5 L606.9,637.0 L609.7,652.1 L612.5,639.8 L615.4,621.9 L617.8,603.0 L620.7,632.6 L623.3,619.0 L626.0,622.8 L628.6,645.5 L631.4,622.8 L634.3,632.3 L636.9,620.5 L639.9,645.5 L642.8,623.8 L645.6,620.0 L648.5,639.8 L650.9,632.3 L653.7,649.6 L656.6,630.4 L659.2,640.8 L662.1,653.4 L664.5,643.6 L667.4,632.3 L670.2,625.6 L673.0,623.8 L675.5,611.5 L678.3,608.6 L681.1,625.6 L683.8,642.1 L686.8,622.4 L689.5,640.8 L692.5,625.6 L695.1,639.8 L698.0,631.3 L700.8,619.4 L703.8,639.8 L706.5,627.5 L709.3,627.0 L712.2,645.1 L715.0,645.5 L717.8,632.3 L720.7,631.3 L723.1,617.5 L726.0,650.2 L728.4,640.8 L731.2,655.3 L734.1,642.7 L736.7,639.8 L739.6,644.5 L742.4,654.6 L745.2,639.8 L748.1,627.5 L750.9,620.5 L753.4,622.8 L756.2,606.7 L760.0,641.7 L761.9,633.8 L764.4,630.0 L767.2,644.5 L769.8,625.6 L772.7,638.9 L775.5,633.8 L778.3,625.6 L780.8,642.7 L783.6,625.6 L786.5,616.8 L789.3,653.4 L792.1,628.1 L795.0,645.1 L797.4,653.4 L800.3,642.7 L803.1,658.4 L805.9,632.3 L808.8,616.2 L811.6,610.5 L814.4,628.5 L817.3,647.4 L819.7,659.7 L822.4,636.4 L825.2,658.4 L828.0,656.8 L830.9,642.7 L833.7,641.7 L836.2,618.6 L839.0,631.3 L841.9,624.3 L844.7,631.3 L847.3,645.5 L850.2,632.3 L853.0,614.9 L855.6,645.5 L858.3,611.1 L861.1,637.5 L864.0,644.5 L866.8,632.3 L869.6,650.2 L872.5,625.6 L875.3,643.6 L878.1,645.9 L881.0,641.3 L883.8,657.8 L886.6,651.2 L889.5,647.8 L892.0,650.2 L894.6,627.5 L897.4,639.8 L899.9,654.6 L902.7,616.8 L905.6,628.9 L908.4,639.8 L911.2,645.1 L914.1,636.0 L916.9,645.1 L919.7,635.1 L922.6,633.8 L925.4,632.3 L928.2,639.8 L930.7,637.5 L933.5,646.4 L936.2,620.9 L938.6,631.3 L941.5,622.8 L944.3,645.5 L946.8,644.0 L949.6,657.8 L952.4,668.2 L955.4,640.2 L958.2,641.3 L961.0,649.3 L963.5,655.9 L966.3,642.7 L969.1,657.8 L971.8,636.4 L974.6,645.5 L977.5,635.7 L980.3,651.2 L982.8,665.9 L985.6,647.0 L988.4,658.4 L991.3,636.0 L993.7,633.8 L996.9,633.2 L999.4,630.0 L1002.6,661.6 L1005.5,667.2 L1008.3,660.6 L1011.1,650.2 L1014.0,658.4 L1016.8,657.8" fill="none" stroke="#df2f1e" stroke-width="2" stroke-linejoin="round"/>
<rect x="60.8" y="709.5" width="992.0" height="93.0" fill="#fff" stroke="#111" stroke-width="1.7"/>
<path d="M60.8,713.2 L66.3,713.2" stroke="#111" stroke-width="1.6"/>
<text class="ss" x="56.8" y="717.8" font-size="12" text-anchor="end" font-weight="normal" fill="#1c1c1c" stroke="#1c1c1c" stroke-width="0.55">20</text>
<path d="M60.8,730 L66.3,730" stroke="#111" stroke-width="1.6"/>
<text class="ss" x="56.8" y="734.6" font-size="12" text-anchor="end" font-weight="normal" fill="#1c1c1c" stroke="#1c1c1c" stroke-width="0.55">16</text>
<path d="M60.8,747.3 L66.3,747.3" stroke="#111" stroke-width="1.6"/>
<text class="ss" x="56.8" y="751.9" font-size="12" text-anchor="end" font-weight="normal" fill="#1c1c1c" stroke="#1c1c1c" stroke-width="0.55">12</text>
<path d="M60.8,764.6 L66.3,764.6" stroke="#111" stroke-width="1.6"/>
<text class="ss" x="56.8" y="769.2" font-size="12" text-anchor="end" font-weight="normal" fill="#1c1c1c" stroke="#1c1c1c" stroke-width="0.55">8</text>
<path d="M60.8,781.7 L66.3,781.7" stroke="#111" stroke-width="1.6"/>
<text class="ss" x="56.8" y="786.3" font-size="12" text-anchor="end" font-weight="normal" fill="#1c1c1c" stroke="#1c1c1c" stroke-width="0.55">4</text>
<path d="M60.8,798.9 L66.3,798.9" stroke="#111" stroke-width="1.6"/>
<text class="ss" x="56.8" y="803.5" font-size="12" text-anchor="end" font-weight="normal" fill="#1c1c1c" stroke="#1c1c1c" stroke-width="0.55">0</text>
<text class="ss" transform="translate(30,756.0) rotate(-90)" font-size="19" text-anchor="middle" font-weight="normal" fill="#111" stroke="#111" stroke-width="0.35">m6A</text>
<path d="M97.3,783.2 L100.2,786.0 L103.0,765.8 L105.9,764.3 L108.7,756.3 L111.5,760.1 L114.0,760.5 L116.8,756.3 L119.7,790.7 L122.5,761.4 L125.3,768.4 L128.2,765.2 L130.8,752.9 L133.7,768.4 L136.5,739.3 L138.9,762.4 L141.8,782.2 L144.6,747.3 L147.4,777.1 L150.3,756.3 L152.7,768.4 L155.9,752.0 L158.8,776.6 L161.2,782.2 L164.1,765.2 L166.7,764.6 L169.6,748.2 L172.0,743.5 L174.9,751.0 L177.7,752.0 L180.5,768.4 L183.0,768.4 L185.8,742.5 L188.7,777.5 L191.5,756.3 L194.3,782.2 L197.2,756.7 L199.8,743.1 L202.7,755.2 L205.1,747.6 L208.3,768.4 L211.2,765.2 L213.6,752.0 L216.5,760.1 L218.9,756.3 L222.1,772.8 L225.0,773.4 L227.8,756.3 L230.3,765.2 L233.1,777.5 L235.9,760.9 L238.8,773.4 L241.4,756.3 L244.2,769.0 L246.7,777.1 L249.7,769.0 L252.4,747.6 L255.2,768.0 L258.1,756.3 L260.9,768.4 L263.7,777.5 L266.6,752.0 L269.4,750.1 L272.2,743.5 L275.1,764.6 L277.7,760.5 L280.4,743.5 L283.0,752.0 L285.8,764.3 L288.7,768.4 L291.5,769.0 L294.0,756.7 L297.0,747.6 L299.6,772.8 L302.5,782.2 L305.3,764.6 L308.1,768.4 L310.8,747.6 L313.6,760.5 L316.3,772.8 L318.9,777.5 L321.8,760.5 L324.6,762.4 L327.4,756.7 L330.3,755.8 L332.7,765.2 L335.6,769.0 L338.4,754.8 L341.2,735.0 L344.1,747.3 L346.5,777.5 L349.4,747.6 L352.2,772.8 L354.8,756.3 L357.5,765.2 L360.3,773.4 L363.2,781.7 L365.8,756.7 L368.6,743.1 L371.5,768.4 L374.7,752.0 L377.1,760.5 L380.0,768.4 L382.8,769.0 L385.3,769.6 L388.1,772.8 L390.8,770.3 L393.6,768.4 L396.1,760.5 L398.9,777.5 L401.7,790.7 L404.6,769.0 L407.4,756.3 L409.9,765.2 L412.7,773.7 L415.5,777.1 L418.4,760.5 L421.2,752.5 L424.1,764.3 L426.9,726.1 L429.7,768.4 L432.6,748.2 L435.2,738.8 L438.0,756.7 L440.9,777.5 L443.7,781.3 L446.2,729.9 L449.0,768.4 L451.8,752.9 L454.7,776.6 L457.5,772.8 L460.1,760.5 L462.8,786.0 L465.4,765.2 L468.5,752.0 L471.1,747.6 L473.9,756.3 L476.8,773.4 L479.6,747.6 L482.5,773.4 L485.3,752.9 L488.1,760.5 L490.8,752.9 L493.4,772.8 L496.1,760.9 L498.7,756.3 L501.9,777.5 L504.8,769.9 L507.0,777.5 L509.7,790.4 L512.3,756.3 L515.2,755.8 L518.0,752.5 L520.8,772.8 L523.7,777.5 L526.5,747.3 L529.3,764.3 L531.8,768.4 L534.6,781.7 L537.5,747.3 L540.3,747.3 L543.5,764.3 L546.0,790.4 L548.6,747.6 L551.5,768.4 L554.3,765.2 L557.1,768.0 L559.6,764.3 L562.4,756.3 L565.3,734.4 L568.1,766.2 L570.6,764.3 L573.2,772.8 L576.2,756.7 L579.1,772.8 L581.7,777.5 L584.7,769.0 L587.4,720.8 L590.0,759.5 L593.1,760.5 L596.1,768.4 L598.7,773.4 L601.4,739.3 L604.0,768.4 L606.9,768.4 L609.7,768.4 L612.5,769.0 L615.0,795.5 L617.8,743.1 L620.7,755.8 L623.3,752.9 L626.0,764.3 L628.6,773.4 L631.4,736.9 L634.3,720.8 L636.9,738.8 L639.9,760.5 L642.8,782.2 L645.6,760.5 L648.1,777.5 L650.9,734.4 L653.7,772.8 L656.6,765.2 L659.2,768.4 L662.1,756.3 L664.9,782.2 L667.5,747.6 L670.2,754.8 L673.0,752.9 L675.5,765.2 L678.3,765.2 L681.1,772.8 L683.8,772.8 L686.8,752.0 L689.9,777.5 L692.5,743.9 L695.1,751.0 L698.0,777.5 L700.8,752.0 L703.8,781.7 L706.5,760.5 L709.3,739.3 L712.2,752.9 L715.0,768.4 L717.5,765.2 L720.3,798.7 L723.1,756.3 L726.0,772.8 L728.4,760.5 L731.2,752.5 L734.1,772.8 L736.4,773.4 L739.6,790.4 L742.4,760.9 L745.2,765.2 L747.7,777.1 L750.5,765.2 L753.4,777.5 L756.2,765.2 L760.0,781.7 L761.9,760.9 L764.4,765.2 L767.6,781.7 L770.0,764.3 L772.7,747.6 L775.5,772.8 L778.3,752.5 L780.8,772.8 L783.6,756.3 L786.5,786.0 L789.3,773.4 L792.1,765.2 L795.0,772.8 L797.4,747.6 L800.3,747.3 L803.1,782.2 L805.9,743.5 L808.8,755.8 L811.6,767.1 L814.4,756.7 L816.7,756.3 L819.7,772.8 L822.4,770.3 L825.2,777.1 L828.0,765.2 L830.9,777.1 L833.7,765.2 L836.2,747.6 L839.0,764.3 L841.9,752.0 L844.7,764.3 L847.3,776.6 L850.2,774.7 L853.0,765.2 L855.6,772.8 L858.3,739.3 L861.1,781.3 L864.0,760.5 L866.8,769.9 L869.6,777.5 L872.5,760.5 L875.3,769.0 L877.6,777.1 L880.4,756.3 L883.2,772.8 L886.1,773.7 L888.9,770.9 L891.8,782.2 L894.6,729.9 L897.4,760.5 L899.9,748.2 L902.7,751.0 L905.6,785.4 L908.4,777.5 L911.2,769.0 L914.1,765.2 L916.9,768.0 L919.7,756.3 L922.2,739.3 L925.0,769.0 L927.9,756.3 L930.7,764.3 L933.5,752.9 L936.2,758.6 L938.6,773.4 L941.5,743.1 L944.3,764.3 L946.8,743.5 L949.6,760.5 L952.4,782.2 L955.4,747.3 L958.2,752.0 L961.0,781.3 L963.5,790.4 L966.3,773.7 L969.1,786.0 L971.8,765.2 L974.6,756.3 L977.5,756.3 L980.3,777.5 L982.8,776.6 L985.6,769.9 L988.4,786.0 L991.3,760.5 L993.7,760.5 L996.9,726.1 L999.8,751.0 L1002.6,756.3 L1005.5,777.1 L1008.3,772.8 L1010.7,747.3 L1014.0,777.5 L1016.8,769.0" fill="none" stroke="#4db748" stroke-width="2" stroke-linejoin="round"/>
<rect x="60.8" y="824.5" width="992.0" height="92.8" fill="#fff" stroke="#111" stroke-width="1.7"/>
<path d="M60.8,827.9 L66.3,827.9" stroke="#111" stroke-width="1.6"/>
<text class="ss" x="56.8" y="832.5" font-size="12" text-anchor="end" font-weight="normal" fill="#1c1c1c" stroke="#1c1c1c" stroke-width="0.55">6000</text>
<path d="M60.8,871.1 L66.3,871.1" stroke="#111" stroke-width="1.6"/>
<text class="ss" x="56.8" y="875.7" font-size="12" text-anchor="end" font-weight="normal" fill="#1c1c1c" stroke="#1c1c1c" stroke-width="0.55">4000</text>
<path d="M60.8,914.2 L66.3,914.2" stroke="#111" stroke-width="1.6"/>
<text class="ss" x="56.8" y="918.8" font-size="12" text-anchor="end" font-weight="normal" fill="#1c1c1c" stroke="#1c1c1c" stroke-width="0.55">2000</text>
<text class="ss" transform="translate(26.5,870.9) rotate(-90)" font-size="19" text-anchor="middle" font-weight="normal" fill="#111" stroke="#111" stroke-width="0.35">unidentified</text>
<path d="M97.3,901.0 L100.2,871.7 L103.0,861.9 L105.9,868.9 L108.7,861.3 L111.5,885.9 L114.4,891.6 L116.8,892.9 L119.7,890.2 L122.5,881.2 L125.3,867.9 L128.2,858.9 L130.8,869.8 L133.7,913.3 L136.5,861.3 L139.3,861.9 L141.8,884.6 L144.6,863.8 L147.4,876.4 L150.3,852.4 L153.1,867.0 L155.9,861.3 L160.7,860.4 L164.1,871.3 L166.7,862.3 L169.6,837.7 L172.4,851.9 L174.9,859.4 L177.7,869.4 L180.5,861.3 L183.0,866.4 L185.8,853.8 L188.7,881.5 L191.5,854.7 L194.3,881.2 L197.2,855.6 L199.8,846.2 L202.7,835.4 L205.5,853.8 L207.4,865.1 L208.9,871.3 L211.2,869.8 L213.6,869.4 L216.5,869.4 L219.3,861.3 L222.1,883.0 L225.0,864.1 L227.8,849.0 L230.3,884.0 L233.1,853.8 L235.9,852.8 L238.8,843.4 L241.4,864.5 L244.2,863.2 L246.7,846.2 L249.7,874.5 L252.4,866.0 L255.2,867.0 L258.1,871.3 L260.9,852.8 L263.7,871.3 L266.6,872.7 L269.4,857.5 L272.2,846.8 L275.1,846.2 L277.7,857.0 L280.4,854.3 L283.0,879.3 L285.8,849.4 L288.7,843.0 L291.5,865.7 L294.0,864.1 L297.0,848.1 L299.6,870.2 L302.5,867.0 L305.3,858.5 L308.1,850.0 L310.8,842.4 L313.6,874.5 L316.3,878.9 L318.9,867.5 L321.8,874.5 L324.6,865.7 L327.4,860.4 L330.3,858.9 L332.7,850.9 L335.6,892.9 L338.4,871.7 L341.2,860.4 L344.1,849.0 L346.9,849.0 L349.7,849.4 L352.2,860.4 L354.8,861.3 L357.5,872.7 L360.3,853.8 L363.2,864.1 L365.8,860.4 L368.6,859.4 L371.5,850.9 L374.7,828.6 L377.1,889.7 L380.0,894.4 L382.8,871.7 L385.3,850.9 L388.1,870.8 L390.8,871.7 L393.6,851.9 L396.1,878.3 L398.9,904.8 L401.7,868.9 L404.6,871.3 L407.4,868.9 L409.9,855.1 L412.7,877.4 L415.5,863.2 L418.4,860.4 L421.2,879.3 L424.1,860.4 L426.9,880.2 L429.7,885.9 L432.6,851.9 L435.2,860.4 L438.0,884.0 L440.9,892.5 L443.7,885.9 L446.2,853.8 L449.0,875.5 L451.8,885.9 L454.7,867.0 L457.5,868.9 L460.1,865.1 L462.8,891.6 L465.4,874.5 L468.5,855.6 L471.1,839.6 L473.9,840.5 L476.8,875.1 L479.6,866.0 L482.5,858.5 L485.3,846.2 L488.1,845.2 L490.8,835.8 L493.4,873.2 L496.1,858.5 L498.7,875.5 L501.9,889.1 L504.8,884.0 L507.0,866.4 L509.7,866.0 L512.3,878.9 L515.2,880.2 L518.0,886.5 L520.8,891.0 L523.7,871.7 L526.5,866.4 L529.3,880.8 L531.8,879.3 L534.6,851.9 L537.5,836.7 L540.3,845.2 L543.5,856.6 L546.0,859.4 L548.6,869.4 L551.5,850.5 L554.3,851.9 L557.1,854.7 L559.6,842.4 L562.4,858.9 L565.3,878.9 L568.1,874.5 L570.6,865.1 L573.2,872.7 L576.6,871.7 L579.1,870.8 L581.7,847.5 L584.7,864.1 L587.4,865.7 L590.0,839.2 L593.1,873.6 L596.1,879.3 L598.7,855.6 L601.2,847.1 L604.0,851.9 L606.9,856.2 L609.7,872.7 L612.5,870.8 L615.4,861.3 L617.8,839.6 L620.7,854.7 L623.3,851.9 L626.0,849.4 L628.6,871.7 L631.4,851.9 L634.3,854.7 L636.9,850.9 L639.9,879.3 L642.8,852.8 L645.6,850.0 L648.5,860.4 L650.9,858.9 L653.7,881.2 L656.6,853.8 L659.2,862.3 L662.1,872.1 L664.5,869.4 L667.4,853.8 L670.2,849.0 L673.0,854.7 L675.5,843.4 L678.3,834.9 L681.1,851.9 L683.8,866.4 L686.8,856.6 L689.5,861.3 L692.5,854.7 L695.1,863.8 L698.0,857.5 L700.8,847.5 L703.8,861.3 L706.5,860.4 L709.3,853.8 L712.2,863.8 L715.0,872.7 L717.8,862.6 L720.7,854.3 L723.1,847.1 L726.0,875.9 L728.4,864.5 L731.2,879.3 L734.1,867.0 L736.7,860.4 L739.6,867.9 L742.4,875.9 L745.2,863.8 L748.1,852.8 L750.9,843.4 L753.4,852.8 L756.2,843.7 L760.0,866.0 L761.9,853.8 L764.4,853.8 L767.2,875.5 L769.8,855.6 L772.7,864.5 L775.5,861.3 L778.3,855.6 L780.8,864.5 L783.6,846.2 L786.5,843.0 L789.3,873.2 L792.1,852.4 L795.0,864.1 L797.4,875.1 L800.3,868.9 L803.1,885.9 L805.9,857.5 L808.8,839.6 L811.6,840.0 L814.4,852.8 L817.3,871.3 L819.7,887.2 L822.4,861.9 L825.2,872.7 L828.0,879.6 L830.9,870.8 L833.7,863.2 L836.2,840.5 L839.0,855.6 L841.9,856.2 L844.7,857.0 L847.3,868.9 L850.2,866.0 L853.0,847.1 L855.6,873.2 L858.3,841.8 L861.1,859.4 L864.0,864.5 L866.8,855.1 L869.6,885.9 L872.5,858.9 L875.3,868.9 L878.1,867.9 L881.0,870.8 L883.8,881.5 L886.6,881.2 L889.5,868.9 L892.0,875.5 L894.6,861.9 L897.4,861.3 L899.9,871.7 L902.7,848.6 L905.6,855.6 L908.4,862.6 L911.2,866.4 L914.1,860.0 L916.9,865.1 L919.7,858.9 L922.6,853.8 L925.4,853.2 L928.2,860.4 L930.7,861.3 L933.5,867.0 L936.2,855.6 L938.6,860.4 L941.5,854.3 L944.3,865.7 L946.8,866.4 L949.6,881.5 L952.4,891.0 L955.4,863.8 L958.2,864.1 L961.0,873.2 L963.5,881.2 L966.3,866.0 L969.1,892.9 L971.8,861.9 L974.6,871.7 L977.5,858.1 L980.3,876.4 L982.8,893.5 L985.6,875.5 L988.4,886.8 L991.3,859.4 L993.7,857.0 L996.9,863.2 L999.4,858.9 L1002.6,884.9 L1005.5,899.7 L1008.3,886.8 L1011.1,877.0 L1014.0,884.9 L1016.8,886.8" fill="none" stroke="#3a3fa3" stroke-width="2" stroke-linejoin="round"/>
<text class="ss" x="128" y="514.2" font-size="17.6" text-anchor="middle" font-weight="bold" fill="#e8401c" >*</text>
<text class="ss" x="168.6" y="493.9" font-size="17.6" text-anchor="middle" font-weight="bold" fill="#e8401c" >*</text>
<text class="ss" x="202.3" y="493.4" font-size="17.6" text-anchor="middle" font-weight="bold" fill="#e8401c" >*</text>
<text class="ss" x="310.4" y="498.1" font-size="17.6" text-anchor="middle" font-weight="bold" fill="#e8401c" >*</text>
<text class="ss" x="380" y="495.8" font-size="17.6" text-anchor="middle" font-weight="bold" fill="#e8401c" >*</text>
<text class="ss" x="471.3" y="494.7" font-size="17.6" text-anchor="middle" font-weight="bold" fill="#e8401c" >*</text>
<text class="ss" x="489.3" y="495.2" font-size="17.6" text-anchor="middle" font-weight="bold" fill="#e8401c" >*</text>
<text class="ss" x="537.3" y="493.4" font-size="17.6" text-anchor="middle" font-weight="bold" fill="#e8401c" >*</text>
<text class="ss" x="590.4" y="495.8" font-size="17.6" text-anchor="middle" font-weight="bold" fill="#e8401c" >*</text>
<text class="ss" x="678.7" y="492.8" font-size="17.6" text-anchor="middle" font-weight="bold" fill="#e8401c" >*</text>
<text class="ss" x="810.5" y="496.6" font-size="17.6" text-anchor="middle" font-weight="bold" fill="#e8401c" >*</text>
<text class="ss" x="858.9" y="497.7" font-size="17.6" text-anchor="middle" font-weight="bold" fill="#e8401c" >*</text>
<text class="ss" x="993.7" y="514.7" font-size="17.6" text-anchor="middle" font-weight="bold" fill="#e8401c" >*</text>
<text class="ss" x="139.9" y="575.2" font-size="17.6" text-anchor="middle" font-weight="bold" fill="#3a43b0" >*</text>
<text class="ss" x="335.6" y="568.4" font-size="17.6" text-anchor="middle" font-weight="bold" fill="#3a43b0" >*</text>
<text class="ss" x="380" y="568.4" font-size="17.6" text-anchor="middle" font-weight="bold" fill="#3a43b0" >*</text>
<text class="ss" x="398.9" y="576.0" font-size="17.6" text-anchor="middle" font-weight="bold" fill="#3a43b0" >*</text>
<text class="ss" x="441.4" y="567.1" font-size="17.6" text-anchor="middle" font-weight="bold" fill="#3a43b0" >*</text>
<text class="ss" x="502.5" y="566.2" font-size="17.6" text-anchor="middle" font-weight="bold" fill="#3a43b0" >*</text>
<text class="ss" x="521.8" y="566.2" font-size="17.6" text-anchor="middle" font-weight="bold" fill="#3a43b0" >*</text>
<text class="ss" x="596.5" y="554.8" font-size="17.6" text-anchor="middle" font-weight="bold" fill="#3a43b0" >*</text>
<text class="ss" x="869.6" y="560.9" font-size="17.6" text-anchor="middle" font-weight="bold" fill="#3a43b0" >*</text>
<text class="ss" x="952.4" y="567.7" font-size="17.6" text-anchor="middle" font-weight="bold" fill="#3a43b0" >*</text>
<text class="ss" x="1005.4" y="574.2" font-size="17.6" text-anchor="middle" font-weight="bold" fill="#3a43b0" >*</text>
<text class="ss" x="97.2" y="937.9" font-size="11.8" text-anchor="middle" font-weight="normal" fill="#222" stroke="#222" stroke-width="0.5">1</text>
<text class="ss" x="113.81" y="937.9" font-size="11.8" text-anchor="middle" font-weight="normal" fill="#222" stroke="#222" stroke-width="0.5">7</text>
<text class="ss" x="135.94" y="937.9" font-size="11.8" text-anchor="middle" font-weight="normal" fill="#222" stroke="#222" stroke-width="0.5">15</text>
<text class="ss" x="160.85" y="937.9" font-size="11.8" text-anchor="middle" font-weight="normal" fill="#222" stroke="#222" stroke-width="0.5">24</text>
<text class="ss" x="185.76" y="937.9" font-size="11.8" text-anchor="middle" font-weight="normal" fill="#222" stroke="#222" stroke-width="0.5">33</text>
<text class="ss" x="210.67" y="937.9" font-size="11.8" text-anchor="middle" font-weight="normal" fill="#222" stroke="#222" stroke-width="0.5">42</text>
<text class="ss" x="235.57" y="937.9" font-size="11.8" text-anchor="middle" font-weight="normal" fill="#222" stroke="#222" stroke-width="0.5">51</text>
<text class="ss" x="260.48" y="937.9" font-size="11.8" text-anchor="middle" font-weight="normal" fill="#222" stroke="#222" stroke-width="0.5">60</text>
<text class="ss" x="285.39" y="937.9" font-size="11.8" text-anchor="middle" font-weight="normal" fill="#222" stroke="#222" stroke-width="0.5">69</text>
<text class="ss" x="310.3" y="937.9" font-size="11.8" text-anchor="middle" font-weight="normal" fill="#222" stroke="#222" stroke-width="0.5">78</text>
<text class="ss" x="335.2" y="937.9" font-size="11.8" text-anchor="middle" font-weight="normal" fill="#222" stroke="#222" stroke-width="0.5">87</text>
<text class="ss" x="360.11" y="937.9" font-size="11.8" text-anchor="middle" font-weight="normal" fill="#222" stroke="#222" stroke-width="0.5">96</text>
<text class="ss" x="387.79" y="937.9" font-size="11.8" text-anchor="middle" font-weight="normal" fill="#222" stroke="#222" stroke-width="0.5">106</text>
<text class="ss" x="418.23" y="937.9" font-size="11.8" text-anchor="middle" font-weight="normal" fill="#222" stroke="#222" stroke-width="0.5">117</text>
<text class="ss" x="448.67" y="937.9" font-size="11.8" text-anchor="middle" font-weight="normal" fill="#222" stroke="#222" stroke-width="0.5">128</text>
<text class="ss" x="479.12" y="937.9" font-size="11.8" text-anchor="middle" font-weight="normal" fill="#222" stroke="#222" stroke-width="0.5">139</text>
<text class="ss" x="509.56" y="937.9" font-size="11.8" text-anchor="middle" font-weight="normal" fill="#222" stroke="#222" stroke-width="0.5">150</text>
<text class="ss" x="540.0" y="937.9" font-size="11.8" text-anchor="middle" font-weight="normal" fill="#222" stroke="#222" stroke-width="0.5">161</text>
<text class="ss" x="570.44" y="937.9" font-size="11.8" text-anchor="middle" font-weight="normal" fill="#222" stroke="#222" stroke-width="0.5">172</text>
<text class="ss" x="600.88" y="937.9" font-size="11.8" text-anchor="middle" font-weight="normal" fill="#222" stroke="#222" stroke-width="0.5">183</text>
<text class="ss" x="631.33" y="937.9" font-size="11.8" text-anchor="middle" font-weight="normal" fill="#222" stroke="#222" stroke-width="0.5">194</text>
<text class="ss" x="661.77" y="937.9" font-size="11.8" text-anchor="middle" font-weight="normal" fill="#222" stroke="#222" stroke-width="0.5">205</text>
<text class="ss" x="692.21" y="937.9" font-size="11.8" text-anchor="middle" font-weight="normal" fill="#222" stroke="#222" stroke-width="0.5">216</text>
<text class="ss" x="722.66" y="937.9" font-size="11.8" text-anchor="middle" font-weight="normal" fill="#222" stroke="#222" stroke-width="0.5">227</text>
<text class="ss" x="753.1" y="937.9" font-size="11.8" text-anchor="middle" font-weight="normal" fill="#222" stroke="#222" stroke-width="0.5">238</text>
<text class="ss" x="783.54" y="937.9" font-size="11.8" text-anchor="middle" font-weight="normal" fill="#222" stroke="#222" stroke-width="0.5">249</text>
<text class="ss" x="813.98" y="937.9" font-size="11.8" text-anchor="middle" font-weight="normal" fill="#222" stroke="#222" stroke-width="0.5">260</text>
<text class="ss" x="844.43" y="937.9" font-size="11.8" text-anchor="middle" font-weight="normal" fill="#222" stroke="#222" stroke-width="0.5">271</text>
<text class="ss" x="874.87" y="937.9" font-size="11.8" text-anchor="middle" font-weight="normal" fill="#222" stroke="#222" stroke-width="0.5">282</text>
<text class="ss" x="905.31" y="937.9" font-size="11.8" text-anchor="middle" font-weight="normal" fill="#222" stroke="#222" stroke-width="0.5">293</text>
<text class="ss" x="935.75" y="937.9" font-size="11.8" text-anchor="middle" font-weight="normal" fill="#222" stroke="#222" stroke-width="0.5">304</text>
<text class="ss" x="966.2" y="937.9" font-size="11.8" text-anchor="middle" font-weight="normal" fill="#222" stroke="#222" stroke-width="0.5">315</text>
<text class="ss" x="996.64" y="937.9" font-size="11.8" text-anchor="middle" font-weight="normal" fill="#222" stroke="#222" stroke-width="0.5">326</text>
</g>
<g id="panelD">
<text class="ss" x="12.6" y="991.2" font-size="24" text-anchor="start" font-weight="bold" fill="#0c0c0c" stroke="#0c0c0c" stroke-width="0.5">D</text>
<path d="M120.4,993.5799999999999 L120.4,1279.1999999999998" stroke="#111" stroke-width="3.4"/>
<path d="M114.4,1277.6 L517,1277.6" stroke="#111" stroke-width="3.2"/>
<path d="M114.10000000000001,1277.60 L120.4,1277.60" stroke="#111" stroke-width="2.7"/>
<text class="ss" x="105.6" y="1283.7" font-size="17.3" text-anchor="end" font-weight="bold" fill="#111" stroke="#111" stroke-width="0.3">0</text>
<path d="M114.10000000000001,1230.48 L120.4,1230.48" stroke="#111" stroke-width="2.7"/>
<text class="ss" x="105.6" y="1236.58" font-size="17.3" text-anchor="end" font-weight="bold" fill="#111" stroke="#111" stroke-width="0.3">1000</text>
<path d="M114.10000000000001,1183.36 L120.4,1183.36" stroke="#111" stroke-width="2.7"/>
<text class="ss" x="105.6" y="1189.46" font-size="17.3" text-anchor="end" font-weight="bold" fill="#111" stroke="#111" stroke-width="0.3">2000</text>
<path d="M114.10000000000001,1136.24 L120.4,1136.24" stroke="#111" stroke-width="2.7"/>
<text class="ss" x="105.6" y="1142.34" font-size="17.3" text-anchor="end" font-weight="bold" fill="#111" stroke="#111" stroke-width="0.3">3000</text>
<path d="M114.10000000000001,1089.12 L120.4,1089.12" stroke="#111" stroke-width="2.7"/>
<text class="ss" x="105.6" y="1095.22" font-size="17.3" text-anchor="end" font-weight="bold" fill="#111" stroke="#111" stroke-width="0.3">4000</text>
<path d="M114.10000000000001,1042.00 L120.4,1042.00" stroke="#111" stroke-width="2.7"/>
<text class="ss" x="105.6" y="1048.1" font-size="17.3" text-anchor="end" font-weight="bold" fill="#111" stroke="#111" stroke-width="0.3">5000</text>
<path d="M114.10000000000001,994.88 L120.4,994.88" stroke="#111" stroke-width="2.7"/>
<text class="ss" x="105.6" y="1000.98" font-size="17.3" text-anchor="end" font-weight="bold" fill="#111" stroke="#111" stroke-width="0.3">6000</text>
<path d="M120.4,1277.6 L120.4,1284.1" stroke="#111" stroke-width="2.7"/>
<path d="M317.5,1277.6 L317.5,1284.1" stroke="#111" stroke-width="2.7"/>
<path d="M515.5,1277.6 L515.5,1284.1" stroke="#111" stroke-width="2.7"/>
<rect x="161.3" y="1254" width="58.1" height="23.6" fill="#4f81bd" stroke="#111" stroke-width="2.1"/>
<rect x="219.4" y="1263" width="56.1" height="14.6" fill="#f79646" stroke="#111" stroke-width="2.1"/>
<rect x="359.7" y="1082.3" width="57.1" height="195.3" fill="#4f81bd" stroke="#111" stroke-width="2.1"/>
<rect x="416.8" y="1139.4" width="56.2" height="138.2" fill="#f79646" stroke="#111" stroke-width="2.1"/>
<text class="ss" x="218" y="1298" font-size="17" text-anchor="middle" font-weight="bold" fill="#111" >m4C</text>
<text class="ss" x="417" y="1298" font-size="17" text-anchor="middle" font-weight="bold" fill="#111" >unidenfied</text>
<rect x="174" y="1007.8" width="8" height="8" fill="#4f81bd" stroke="#1a1a1a" stroke-width="2"/>
<text class="ss" x="186.2" y="1018" font-size="17.2" text-anchor="start" font-weight="bold" fill="#111" >Total</text>
<rect x="239.3" y="1007.8" width="8" height="8" fill="#f79646" stroke="#1a1a1a" stroke-width="2"/>
<text class="ss" x="251.2" y="1018" font-size="17.2" text-anchor="start" font-weight="bold" fill="#111" >Repetitive elements</text>
<text class="ss" transform="translate(57.5,1135.5) rotate(-90)" font-size="17.15" text-anchor="middle" font-weight="bold" fill="#111">Number of methylations per 20 kb</text>
</g>
<g id="panelE">
<text class="ss" x="562.4" y="991.2" font-size="24" text-anchor="start" font-weight="bold" fill="#0c0c0c" stroke="#0c0c0c" stroke-width="0.5">E</text>
<path d="M651.7,999.64 L651.7,1277.5" stroke="#111" stroke-width="3.3"/>
<path d="M645.7,1276.0 L988,1276.0" stroke="#111" stroke-width="3.1"/>
<path d="M645.2,1276.00 L651.7,1276.00" stroke="#111" stroke-width="2.5"/>
<text class="ss" x="638.3" y="1282.2" font-size="17.4" text-anchor="end" font-weight="bold" fill="#111" stroke="#111" stroke-width="0.3">0</text>
<path d="M645.2,1253.07 L651.7,1253.07" stroke="#111" stroke-width="2.5"/>
<text class="ss" x="638.3" y="1259.27" font-size="17.4" text-anchor="end" font-weight="bold" fill="#111" stroke="#111" stroke-width="0.3">1</text>
<path d="M645.2,1230.14 L651.7,1230.14" stroke="#111" stroke-width="2.5"/>
<text class="ss" x="638.3" y="1236.34" font-size="17.4" text-anchor="end" font-weight="bold" fill="#111" stroke="#111" stroke-width="0.3">2</text>
<path d="M645.2,1207.21 L651.7,1207.21" stroke="#111" stroke-width="2.5"/>
<text class="ss" x="638.3" y="1213.41" font-size="17.4" text-anchor="end" font-weight="bold" fill="#111" stroke="#111" stroke-width="0.3">3</text>
<path d="M645.2,1184.28 L651.7,1184.28" stroke="#111" stroke-width="2.5"/>
<text class="ss" x="638.3" y="1190.48" font-size="17.4" text-anchor="end" font-weight="bold" fill="#111" stroke="#111" stroke-width="0.3">4</text>
<path d="M645.2,1161.35 L651.7,1161.35" stroke="#111" stroke-width="2.5"/>
<text class="ss" x="638.3" y="1167.55" font-size="17.4" text-anchor="end" font-weight="bold" fill="#111" stroke="#111" stroke-width="0.3">5</text>
<path d="M645.2,1138.42 L651.7,1138.42" stroke="#111" stroke-width="2.5"/>
<text class="ss" x="638.3" y="1144.62" font-size="17.4" text-anchor="end" font-weight="bold" fill="#111" stroke="#111" stroke-width="0.3">6</text>
<path d="M645.2,1115.49 L651.7,1115.49" stroke="#111" stroke-width="2.5"/>
<text class="ss" x="638.3" y="1121.69" font-size="17.4" text-anchor="end" font-weight="bold" fill="#111" stroke="#111" stroke-width="0.3">7</text>
<path d="M645.2,1092.56 L651.7,1092.56" stroke="#111" stroke-width="2.5"/>
<text class="ss" x="638.3" y="1098.76" font-size="17.4" text-anchor="end" font-weight="bold" fill="#111" stroke="#111" stroke-width="0.3">8</text>
<path d="M645.2,1069.63 L651.7,1069.63" stroke="#111" stroke-width="2.5"/>
<text class="ss" x="638.3" y="1075.83" font-size="17.4" text-anchor="end" font-weight="bold" fill="#111" stroke="#111" stroke-width="0.3">9</text>
<path d="M645.2,1046.70 L651.7,1046.70" stroke="#111" stroke-width="2.5"/>
<text class="ss" x="638.3" y="1052.9" font-size="17.4" text-anchor="end" font-weight="bold" fill="#111" stroke="#111" stroke-width="0.3">10</text>
<path d="M645.2,1023.77 L651.7,1023.77" stroke="#111" stroke-width="2.5"/>
<text class="ss" x="638.3" y="1029.97" font-size="17.4" text-anchor="end" font-weight="bold" fill="#111" stroke="#111" stroke-width="0.3">11</text>
<path d="M645.2,1000.84 L651.7,1000.84" stroke="#111" stroke-width="2.5"/>
<text class="ss" x="638.3" y="1007.04" font-size="17.4" text-anchor="end" font-weight="bold" fill="#111" stroke="#111" stroke-width="0.3">12</text>
<path d="M651.7,1276.0 L651.7,1282.0" stroke="#111" stroke-width="2.5"/>
<path d="M819.3,1276.0 L819.3,1282.0" stroke="#111" stroke-width="2.5"/>
<path d="M987,1276.0 L987,1282.0" stroke="#111" stroke-width="2.5"/>
<rect x="701.8" y="1081.3" width="67.7" height="194.7" fill="#4673bd" stroke="#111" stroke-width="2.2"/>
<rect x="868.7" y="1071.8" width="67.6" height="204.2" fill="#ed7d31" stroke="#111" stroke-width="2.2"/>
<text class="ss" x="802.5" y="1021.3" font-size="16.9" text-anchor="middle" font-weight="bold" fill="#111" >m6A</text>
<text class="ss" x="736" y="1297" font-size="17.2" text-anchor="middle" font-weight="bold" fill="#111" >Total</text>
<text class="ss" x="902.7" y="1297" font-size="17.2" text-anchor="middle" font-weight="bold" fill="#111" >Repetive elements</text>
<text class="ss" transform="translate(605.5,1136) rotate(-90)" font-size="17.15" text-anchor="middle" font-weight="bold" fill="#111">Number of methylations per 20 kb</text>
</g>
</svg>
</body></html>
